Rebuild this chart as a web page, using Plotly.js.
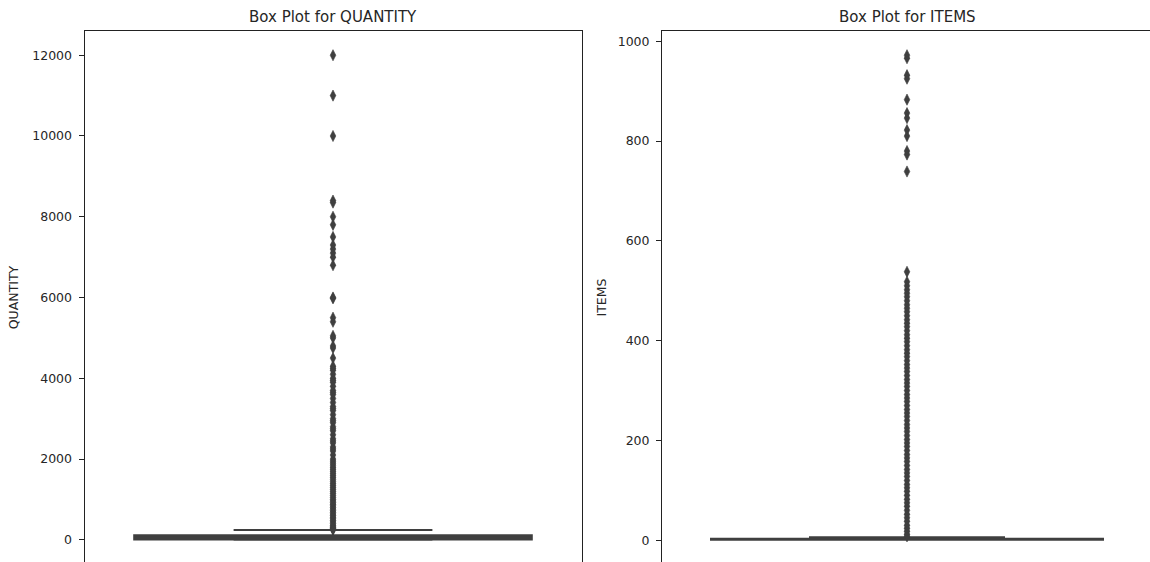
<!DOCTYPE html>
<html>
<head>
<meta charset="utf-8">
<script src="https://cdn.plot.ly/plotly-3.0.1.min.js"></script>
<style>
html,body{margin:0;padding:0;overflow:hidden;background:#fff;}
#chart{width:1160px;height:566px;}
</style>
</head>
<body>
<div id="chart"></div>
<script>
// ---- data ----
const panelTitles = ["Box Plot for QUANTITY", "Box Plot for ITEMS"];
const axisNames = ["QUANTITY", "ITEMS"];
const quantityTicks = [0, 2000, 4000, 6000, 8000, 10000, 12000];
const itemsTicks = [0, 200, 400, 600, 800, 1000];

// box statistics
const quantityStats = {min: 1, q1: 8, median: 50, q3: 110, upper: 240};
const itemsStats = {min: 1, q1: 1, median: 2, q3: 3, upper: 6};

// outliers
const quantityOutliers = [12000, 11000, 10000, 8400, 8350, 8000, 7800, 7500, 7300, 7200, 7100, 7000, 6800,
  6000, 5980, 5500, 5400, 5050, 5000, 4800, 4750, 4500, 4300, 4250, 4200, 4100, 4000, 3950, 3900, 3800,
  3700, 3650, 3600, 3500, 3400, 3300, 3250, 3200, 3100, 3000, 2950, 2900, 2800, 2750, 2700, 2600, 2500,
  2450, 2400, 2300, 2250, 2200, 2100, 2000, 1950, 1900, 1850, 1800, 1750, 1700, 1650, 1600, 1550, 1500,
  1450, 1400, 1350, 1300, 1250, 1200, 1150, 1100, 1050, 1000, 960, 920, 880, 840, 800, 760, 720, 680,
  640, 600, 560, 520, 480, 440, 400, 360, 320, 300, 280, 260, 250];
const itemsOutliers = [972, 966, 932, 925, 883, 856, 846, 822, 810, 780, 773, 739, 538, 518, 510, 502, 495,
  488, 480, 472, 465, 458, 450, 442, 435, 428, 420, 412, 405, 398, 390, 382, 375, 368, 360, 352, 345, 338,
  330, 322, 315, 308, 300, 292, 285, 278, 270, 262, 255, 248, 240, 232, 225, 218, 210, 202, 195, 188, 180,
  172, 165, 158, 150, 142, 135, 128, 120, 112, 105, 98, 90, 82, 75, 68, 60, 52, 45, 38, 30, 24, 18, 12, 8];

// ---- styling ----
const dark = '#3f3f3f';
const textColor = '#262626';
const fontFam = 'DejaVu Sans, sans-serif';

function boxTrace(s, xa, ya) {
  return {
    type: 'box', x: [0], q1: [s.q1], median: [s.median], q3: [s.q3],
    lowerfence: [s.min], upperfence: [s.upper],
    width: 0.8, whiskerwidth: 0.5,
    fillcolor: dark, line: {color: dark, width: 2},
    boxpoints: false, xaxis: xa, yaxis: ya, showlegend: false, hoverinfo: 'skip'
  };
}
function outlierTrace(vals, xa, ya) {
  return {
    type: 'scatter', mode: 'markers',
    x: vals.map(() => 0), y: vals,
    marker: {symbol: 'diamond-tall', size: 8, color: dark, line: {width: 0.6, color: dark}},
    xaxis: xa, yaxis: ya, showlegend: false, hoverinfo: 'skip'
  };
}
function padRange(s, outs) {
  const lo = Math.min(s.min, ...outs), hi = Math.max(s.upper, ...outs);
  const m = 0.05 * (hi - lo);
  return [lo - m, hi + m];
}

const W = 1160;
const traces = [
  boxTrace(quantityStats, 'x', 'y'),
  outlierTrace(quantityOutliers, 'x', 'y'),
  boxTrace(itemsStats, 'x2', 'y2'),
  outlierTrace(itemsOutliers, 'x2', 'y2')
];

const xCommon = {range: [-0.5, 0.5], showticklabels: false, ticks: '', showgrid: false, zeroline: false,
  showline: true, mirror: true, linecolor: '#222', linewidth: 1, fixedrange: true};
const yCommon = {showgrid: false, zeroline: false, showline: true, mirror: true, linecolor: '#222', linewidth: 1,
  ticks: 'outside', ticklen: 5, tickcolor: '#222', tickwidth: 1, tickformat: 'd', ticklabelstandoff: 4,
  tickfont: {family: fontFam, size: 12.5, color: textColor}};

const layout = {
  width: W, height: 566,
  margin: {l: 0, r: 0, t: 31, b: 2},
  paper_bgcolor: '#fff', plot_bgcolor: '#fff',
  font: {family: fontFam, color: textColor},
  xaxis: Object.assign({}, xCommon, {domain: [84.5 / W, 581.5 / W]}),
  xaxis2: Object.assign({}, xCommon, {domain: [662 / W, 1152 / W], anchor: 'y2'}),
  yaxis: Object.assign({}, yCommon, {range: padRange(quantityStats, quantityOutliers), tickvals: quantityTicks,
    title: {text: axisNames[0], font: {family: fontFam, size: 12.5, color: textColor}, standoff: 10}}),
  yaxis2: Object.assign({}, yCommon, {anchor: 'x2', range: padRange(itemsStats, itemsOutliers), tickvals: itemsTicks,
    title: {text: axisNames[1], font: {family: fontFam, size: 12.5, color: textColor}, standoff: 8}}),
  annotations: [
    {text: panelTitles[0], xref: 'x domain', yref: 'paper', x: 0.5, y: 1, yshift: 14, showarrow: false,
      xanchor: 'center', yanchor: 'middle', font: {family: fontFam, size: 15, color: textColor}},
    {text: panelTitles[1], xref: 'x2 domain', yref: 'paper', x: 0.5, y: 1, yshift: 14, showarrow: false,
      xanchor: 'center', yanchor: 'middle', font: {family: fontFam, size: 15, color: textColor}}
  ]
};

Plotly.newPlot('chart', traces, layout, {staticPlot: true, displayModeBar: false});
</script>
</body>
</html>
